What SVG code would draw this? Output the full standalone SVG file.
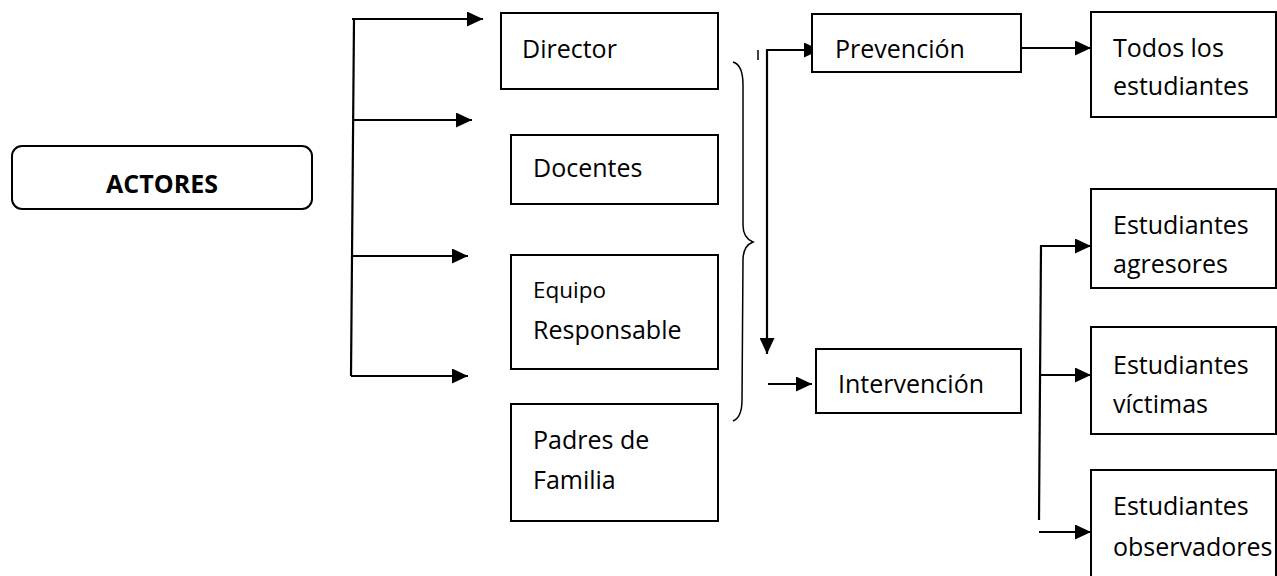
<svg xmlns="http://www.w3.org/2000/svg" width="1277" height="576" viewBox="0 0 1277 576">
<defs>
<marker id="ah" viewBox="0 0 16 15" refX="16" refY="7.5" markerWidth="16" markerHeight="15" markerUnits="userSpaceOnUse" orient="auto">
<path d="M0 0 L16 7.5 L0 15 Z" fill="#000"/>
</marker>
</defs>
<style>
.box{fill:#fff;stroke:#000;stroke-width:2}
.t{font-family:"Open Sans","Liberation Sans",sans-serif;font-size:25px;fill:#000}
.b{font-weight:bold}
.s{font-size:22.5px}
.c{fill:none;stroke:#000;stroke-width:2.2}
.a{marker-end:url(#ah)}
.thin{fill:none;stroke:#000;stroke-width:1.5}
</style>
<rect width="1277" height="576" fill="#fff"/>
<g id="connectors">
<path class="c" d="M354 19 L351 376"/>
<path class="c a" d="M352 19 H483"/>
<path class="c a" d="M353 120 H472"/>
<path class="c a" d="M352 256 H468"/>
<path class="c a" d="M351 376 H468"/>
<path class="thin" d="M733 62 C740 64 743 72 743 85 L743 225 C743 236 748 240 753 242 C748 244 743 248 743 260 L742 400 C742 412 738 419 733 421"/>
<path class="thin" d="M758 50 V60"/>
<path class="c a" d="M767 50 V354"/>
<path class="c a" d="M766 50 H820"/>
<path class="c a" d="M768 384 H812"/>
<path class="c a" d="M1021 48 H1091"/>
<path class="c" d="M1041 246 L1039 520"/>
<path class="c a" d="M1040 246 H1091"/>
<path class="c a" d="M1040 375 H1091"/>
<path class="c a" d="M1039 532 H1091"/>
</g>
<g id="actores">
<rect class="box" x="12" y="146" width="300" height="63" rx="10"/>
<text class="t b" x="162" y="193" text-anchor="middle">ACTORES</text>
</g>
<g id="director">
<rect class="box" x="501" y="13" width="217" height="76"/>
<text class="t" x="522" y="58">Director</text>
</g>
<g id="docentes">
<rect class="box" x="511" y="135" width="207" height="69"/>
<text class="t" x="533" y="177">Docentes</text>
</g>
<g id="equipo">
<rect class="box" x="511" y="255" width="207" height="114"/>
<text class="t s" x="533" y="298">Equipo</text>
<text class="t" x="533" y="339">Responsable</text>
</g>
<g id="padres">
<rect class="box" x="511" y="404" width="207" height="117"/>
<text class="t" x="533" y="449">Padres de</text>
<text class="t" x="533" y="489">Familia</text>
</g>
<g id="prevencion">
<rect class="box" x="812" y="14" width="209" height="58"/>
<text class="t" x="835" y="58">Prevención</text>
</g>
<g id="intervencion">
<rect class="box" x="816" y="349" width="205" height="64"/>
<text class="t" x="838" y="393">Intervención</text>
</g>
<g id="todos">
<rect class="box" x="1091" y="12" width="185" height="105"/>
<text class="t" x="1113" y="57">Todos los</text>
<text class="t" x="1113" y="95">estudiantes</text>
</g>
<g id="agresores">
<rect class="box" x="1091" y="189" width="185" height="99"/>
<text class="t" x="1113" y="234">Estudiantes</text>
<text class="t" x="1113" y="273">agresores</text>
</g>
<g id="victimas">
<rect class="box" x="1091" y="327" width="185" height="107"/>
<text class="t" x="1113" y="374">Estudiantes</text>
<text class="t" x="1113" y="413">víctimas</text>
</g>
<g id="observadores">
<rect class="box" x="1091" y="470" width="185" height="112"/>
<text class="t" x="1113" y="515">Estudiantes</text>
<text class="t" x="1113" y="556">observadores</text>
</g>
</svg>
